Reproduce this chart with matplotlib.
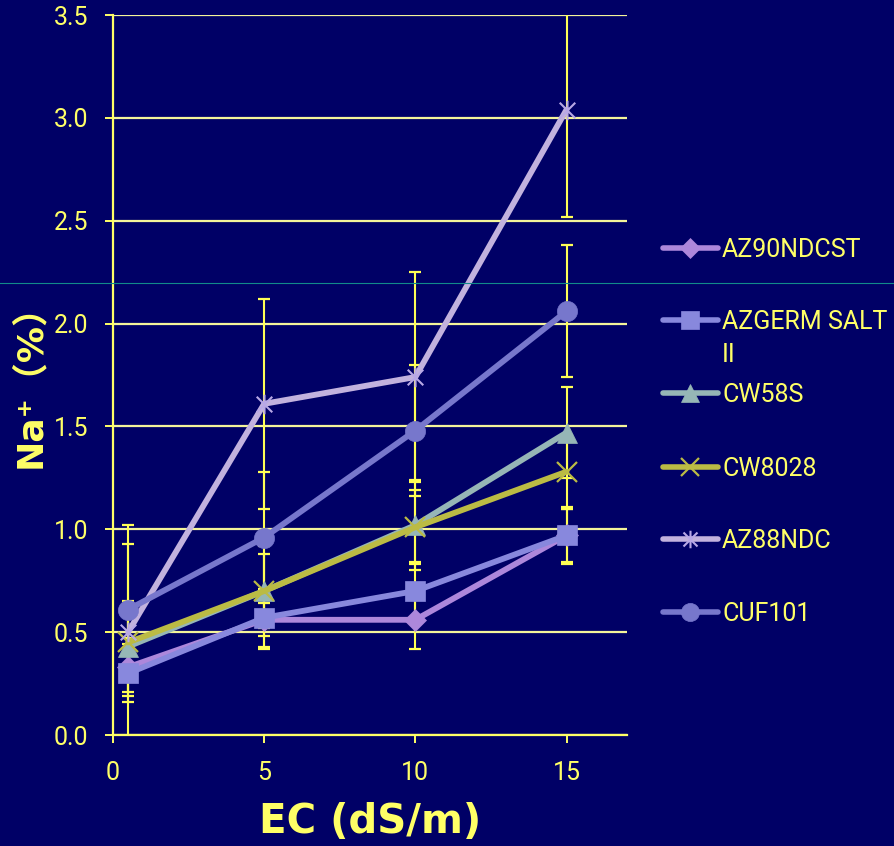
import matplotlib
matplotlib.use('Agg')
import matplotlib.pyplot as plt
from matplotlib.lines import Line2D
from matplotlib.path import Path

# EC levels (dS/m)
ec = [0.5, 5, 10, 15]

# Na+ (%) per cultivar, with error bar half-widths
az90ndcst = [0.33, 0.56, 0.56, 0.97]
az90ndcst_err = [0.14, 0.14, 0.14, 0.13]
azgerm = [0.30, 0.57, 0.70, 0.97]
azgerm_err = [0.14, 0.14, 0.14, 0.14]
cw58s = [0.43, 0.70, 1.02, 1.47]
cw58s_err = [0.22, 0.22, 0.22, 0.22]
cw8028 = [0.45, 0.70, 1.01, 1.28]
cw8028_err = [0.18, 0.18, 0.18, 0.18]
az88ndc = [0.50, 1.61, 1.74, 3.04]
az88ndc_err = [0.52, 0.51, 0.51, 0.52]
cuf101 = [0.61, 0.96, 1.48, 2.06]
cuf101_err = [0.32, 0.32, 0.32, 0.32]

names = ['AZ90NDCST', 'AZGERM SALT\nII', 'CW58S', 'CW8028', 'AZ88NDC', 'CUF101']

# asterisk marker: vertical bar plus an X
star_path = Path([(0, -1), (0, 1), (-0.8, -0.8), (0.8, 0.8), (-0.8, 0.8), (0.8, -0.8)],
                 [Path.MOVETO, Path.LINETO, Path.MOVETO, Path.LINETO, Path.MOVETO, Path.LINETO])

bg = '#000066'
yellow = '#FFFF66'
grid_col = '#F4F49A'
err_col = '#FFFF55'

# style per series: (values, errors, line colour, marker, marker size, marker colour, edge width, filled)
styles = [
    (az90ndcst, az90ndcst_err, '#AD87DB', 'D', 11, '#AD87DB', 0.5, True),
    (azgerm, azgerm_err, '#8888DD', 's', 15, '#8888DD', 0.5, True),
    (cw58s, cw58s_err, '#96B6B6', '^', 15, '#96B6B6', 0.5, True),
    (cw8028, cw8028_err, '#BBBB44', 'x', 14, '#BBBB44', 1.6, False),
    (az88ndc, az88ndc_err, '#C2B2DE', star_path, 14, '#B8A8E6', 1.5, False),
    (cuf101, cuf101_err, '#7777CC', 'o', 14.5, '#7777CC', 0.5, True),
]

W, H = 894, 846
fig = plt.figure(figsize=(W / 100, H / 100), dpi=100, facecolor=bg)
ax = fig.add_axes([113 / W, 1 - 735 / H, (627 - 113) / W, (735 - 15) / H])
ax.set_facecolor(bg)

# error bars sit under the lines and markers
for vals, errs, lc, mk, ms, mc, mew, filled in styles:
    ax.errorbar(ec, vals, yerr=errs, fmt='none', ecolor=err_col, elinewidth=1.5,
                capsize=4.3, capthick=1.6, zorder=2)

for i, (vals, errs, lc, mk, ms, mc, mew, filled) in enumerate(styles):
    ax.plot(ec, vals, color=lc, lw=4.2, marker=mk, markersize=ms,
            markerfacecolor=mc if filled else 'none', markeredgecolor=mc,
            markeredgewidth=mew, solid_capstyle='round', solid_joinstyle='round',
            zorder=3 + i, clip_on=False)

ax.set_xlim(0, 17)
ax.set_ylim(0, 3.5)
ax.set_xticks([0, 5, 10, 15])
ax.set_yticks([0, 0.5, 1.0, 1.5, 2.0, 2.5, 3.0, 3.5])
ax.yaxis.set_major_formatter(matplotlib.ticker.FormatStrFormatter('%.1f'))
ax.yaxis.grid(True, color=grid_col, lw=1.6)
ax.set_axisbelow(True)

for s in ['top', 'right']:
    ax.spines[s].set_visible(False)
for s in ['left', 'bottom']:
    ax.spines[s].set_color(yellow)
    ax.spines[s].set_linewidth(1.6)

ax.tick_params(axis='both', colors=yellow, width=1.4, length=6, direction='out',
               labelsize=18)
ax.tick_params(axis='y', pad=12)
ax.tick_params(axis='x', pad=13)
for lab in ax.get_xticklabels() + ax.get_yticklabels():
    lab.set_fontfamily('Roboto')

ax.set_xlabel('EC (dS/m)', fontsize=29, fontweight='bold', color=yellow,
              fontfamily='DejaVu Sans')
ax.xaxis.set_label_coords(0.5, -0.121)
ax.xaxis.label.set_verticalalignment('center')

ax.set_ylabel('Na⁺（%）', fontsize=26, fontweight='bold', color=yellow,
              fontfamily=['DejaVu Sans', 'Noto Sans CJK SC'])
ax.yaxis.set_label_coords(-0.1615, 0.498)
ax.yaxis.label.set_verticalalignment('center')

# legend drawn to the right of the plot
leg_y = [248, 320, 393, 467, 539, 612]
for (vals, errs, lc, mk, ms, mc, mew, filled), name, yc in zip(styles, names, leg_y):
    yf = 1 - yc / H
    fig.add_artist(Line2D([663 / W, 718 / W], [yf, yf], color=lc, lw=4,
                          solid_capstyle='round'))
    fig.add_artist(Line2D([690 / W], [yf], marker=mk, markersize=ms * 0.9,
                          markerfacecolor=mc if filled else 'none', markeredgecolor=mc,
                          markeredgewidth=mew, linestyle='none'))
    nlines = name.count('\n')
    fig.text(722 / W, 1 - (yc + 9 + 33 * nlines) / H, name, color=yellow, fontsize=18,
             fontfamily='Roboto', va='baseline', ha='left', linespacing=1.5)

# thin teal rule across the slide
fig.add_artist(Line2D([0, 1], [1 - 283 / H, 1 - 283 / H], color='#128A8A', lw=0.8))

plt.savefig('out.png', dpi=100, facecolor=bg)
